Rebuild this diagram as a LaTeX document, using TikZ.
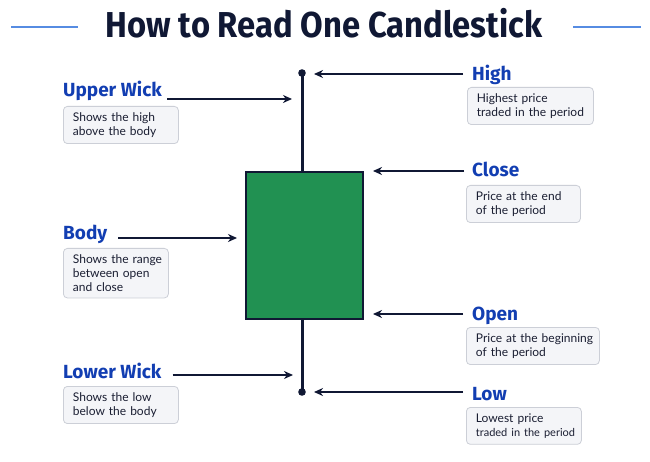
\documentclass[tikz,border=0pt]{standalone}
\usepackage{fontspec}
\setmainfont{Fira Sans}
\newfontfamily\boxfont{Lato}
\usetikzlibrary{arrows.meta}
\definecolor{navy}{RGB}{16,24,52}
\definecolor{lblue}{RGB}{18,62,178}
\definecolor{tline}{RGB}{86,140,226}
\definecolor{cgreen}{RGB}{33,145,82}
\definecolor{boxfill}{RGB}{244,245,248}
\definecolor{boxline}{RGB}{204,207,215}
\definecolor{boxtext}{RGB}{26,30,50}
\tikzset{
  lbl/.style={anchor=base west, inner sep=0pt, text=lblue, font=\fontsize{19}{22}\selectfont\bfseries},
  infobox/.style={anchor=north west, draw=boxline, fill=boxfill, rounded corners=4pt, line width=0.8pt,
    align=left, inner xsep=9.5pt, inner ysep=6pt, text=boxtext, font=\boxfont\fontsize{12}{14.3}\selectfont},
  arr/.style={draw=navy, line width=1.5pt, -{Stealth[length=9pt,width=8pt]}},
  titleline/.style={draw=tline, line width=1.3pt},
}
\begin{document}
\begin{tikzpicture}[x=1pt,y=-1pt]
\useasboundingbox[fill=white] (0,0) rectangle (650,462);
% title
\node[text=navy, font=\fontsize{36}{40}\selectfont\bfseries, inner sep=0pt, anchor=base] (title) at (324,38) {\scalebox{0.91}[1]{How to Read One Candlestick}};
\coordinate (tl1) at (11,27); \coordinate (tl2) at (78,27);
\coordinate (tr1) at (573,27); \coordinate (tr2) at (641,27);
\draw[titleline] (tl1) -- (tl2);
\draw[titleline] (tr1) -- (tr2);
% candle
\coordinate (hi) at (302,73);
\coordinate (lo) at (302,392);
\draw[navy, line width=3pt] (hi) -- (lo);
\fill[navy] (hi) circle (3.8pt);
\fill[navy] (lo) circle (3.8pt);
\node[draw=navy, fill=cgreen, line width=1.6pt, minimum width=117pt, minimum height=147pt, inner sep=0pt, anchor=north west] (body) at (245,171) {};
% labels left
\node[lbl] (uw) at (63,97) {Upper Wick};
\node[infobox, text width=96pt] (uwb) at (63,106) {\mbox{Shows the high}\\\mbox{above the body}};
\node[lbl] (bd) at (63,240) {Body};
\node[infobox, text width=86pt] (bdb) at (63,248) {\mbox{Shows the range}\\\mbox{between open}\\\mbox{and close}};
\node[lbl] (lw) at (63,378) {Lower Wick};
\node[infobox, text width=96pt] (lwb) at (63,386) {\mbox{Shows the low}\\\mbox{below the body}};
% labels right
\node[lbl] (hl) at (472,81) {High};
\node[infobox, text width=107pt] (hlb) at (467,87) {\mbox{Highest price}\\\mbox{traded in the period}};
\node[lbl] (cl) at (472,177) {Close};
\node[infobox, text width=95pt] (clb) at (466,185) {\mbox{Price at the end}\\\mbox{of the period}};
\node[lbl] (op) at (472,320) {Open};
\node[infobox, text width=114pt] (opb) at (466,327) {\mbox{Price at the beginning}\\\mbox{of the period}};
\node[lbl] (lwl) at (472,400) {Low};
\node[infobox, text width=96pt] (lob) at (466,407) {\mbox{Lowest price}\\\mbox{\fontsize{11}{14.3}\selectfont traded in the period}};
% arrow targets
\coordinate (tuw) at (292,99);
\coordinate (tbd) at (237,238);
\coordinate (tlw) at (293,375);
\coordinate (thl) at (314,74);
\coordinate (tcl) at (373,171);
\coordinate (top) at (373,314);
\coordinate (tlo) at (314,392);
\draw[arr] ([xshift=5pt]uw.east |- tuw) -- (tuw);
\draw[arr] ([xshift=11pt]bd.east |- tbd) -- (tbd);
\draw[arr] ([xshift=11pt]lw.east |- tlw) -- (tlw);
\draw[arr] ([xshift=-9pt]hl.west |- thl) -- (thl);
\draw[arr] ([xshift=-8pt]cl.west |- tcl) -- (tcl);
\draw[arr] ([xshift=-9pt]op.west |- top) -- (top);
\draw[arr] ([xshift=-9pt]lwl.west |- tlo) -- (tlo);
\end{tikzpicture}
\end{document}
